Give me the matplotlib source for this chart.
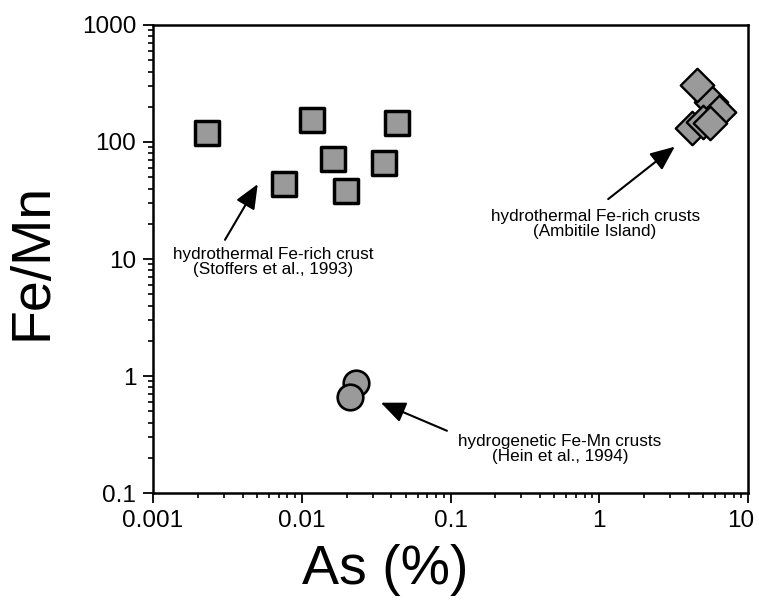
import numpy as np
import matplotlib
matplotlib.use('Agg')
import matplotlib.pyplot as plt
from matplotlib.ticker import NullFormatter
from matplotlib.transforms import ScaledTranslation

plt.rcParams['font.family'] = ['Liberation Sans', 'DejaVu Sans']

# hydrothermal Fe-rich crust (Stoffers et al., 1993)
stoffers_as = [0.0023, 0.0076, 0.0118, 0.0162, 0.0198, 0.0355, 0.0437]
stoffers_femn = [119, 44, 154, 72, 38, 66, 146]

# hydrothermal Fe-rich crusts (Ambitile Island)
ambitile_as = [5.6, 6.4, 4.2, 4.55, 5.0, 5.55]
ambitile_femn = [220, 180, 132, 307, 148, 145]

# hydrogenetic Fe-Mn crusts (Hein et al., 1994)
hein_as = [0.0231, 0.0211]
hein_femn = [0.88, 0.665]

xticks = [0.001, 0.01, 0.1, 1, 10]
xticklabels = ['0.001', '0.01', '0.1', '1', '10']
yticks = [0.1, 1, 10, 100, 1000]
yticklabels = ['0.1', '1', '10', '100', '1000']

fill = '#9a9a9a'

fig = plt.figure(figsize=(7.59, 6.08), dpi=100)
ax = fig.add_axes([0.2016, 0.1891, 0.7839, 0.7698])

ax.scatter(stoffers_as, stoffers_femn, marker='s', s=310, c=fill,
           edgecolors='black', linewidths=2.5, zorder=3)
ax.scatter(ambitile_as, ambitile_femn, marker='D', s=290, c=fill,
           edgecolors='black', linewidths=1.7, zorder=3)
ax.scatter(hein_as, hein_femn, marker='o', s=340, c=fill,
           edgecolors='black', linewidths=1.9, zorder=3)

ax.set_xscale('log')
ax.set_yscale('log')
ax.set_xlim(0.001, 10)
ax.set_ylim(0.1, 1000)
ax.set_xticks(xticks)
ax.set_xticklabels(xticklabels)
ax.set_yticks(yticks)
ax.set_yticklabels(yticklabels)
ax.xaxis.set_minor_formatter(NullFormatter())
ax.yaxis.set_minor_formatter(NullFormatter())

for sp in ax.spines.values():
    sp.set_linewidth(1.8)
ax.tick_params(which='major', direction='out', length=7, width=1.3,
               labelsize=17.5, pad=5)
ax.tick_params(which='minor', direction='out', length=3.5, width=1.2)

# keep the last x label inside the figure
last = ax.get_xticklabels()[-1]
last.set_transform(last.get_transform() +
                   ScaledTranslation(-5 / 72, 0, fig.dpi_scale_trans))

ax.set_xlabel('As (%)', fontsize=40, va='center')
ax.xaxis.set_label_coords(0.390, -0.165)
ax.set_ylabel('Fe/Mn', fontsize=40, va='center')
ax.yaxis.set_label_coords(-0.202, 0.494)

arrow = dict(arrowstyle='-|>,head_length=0.75,head_width=0.32',
             mutation_scale=20, lw=1.5, color='black', shrinkA=0, shrinkB=0)

ax.annotate('', xy=(0.176, 0.660), xytext=(0.121, 0.541),
            xycoords='axes fraction', arrowprops=arrow)
ax.text(0.202, 0.494, 'hydrothermal Fe-rich crust\n(Stoffers et al., 1993)',
        transform=ax.transAxes, ha='center', va='center', fontsize=12.3,
        linespacing=1.05)

ax.annotate('', xy=(0.877, 0.740), xytext=(0.765, 0.628),
            xycoords='axes fraction', arrowprops=arrow)
ax.text(0.743, 0.575, 'hydrothermal Fe-rich crusts\n(Ambitile Island)',
        transform=ax.transAxes, ha='center', va='center', fontsize=12.3,
        linespacing=1.05)

ax.annotate('', xy=(0.383, 0.193), xytext=(0.494, 0.133),
            xycoords='axes fraction', arrowprops=arrow)
ax.text(0.684, 0.094, 'hydrogenetic Fe-Mn crusts\n(Hein et al., 1994)',
        transform=ax.transAxes, ha='center', va='center', fontsize=12.3,
        linespacing=1.05)

fig.savefig('out.png', dpi=100)
